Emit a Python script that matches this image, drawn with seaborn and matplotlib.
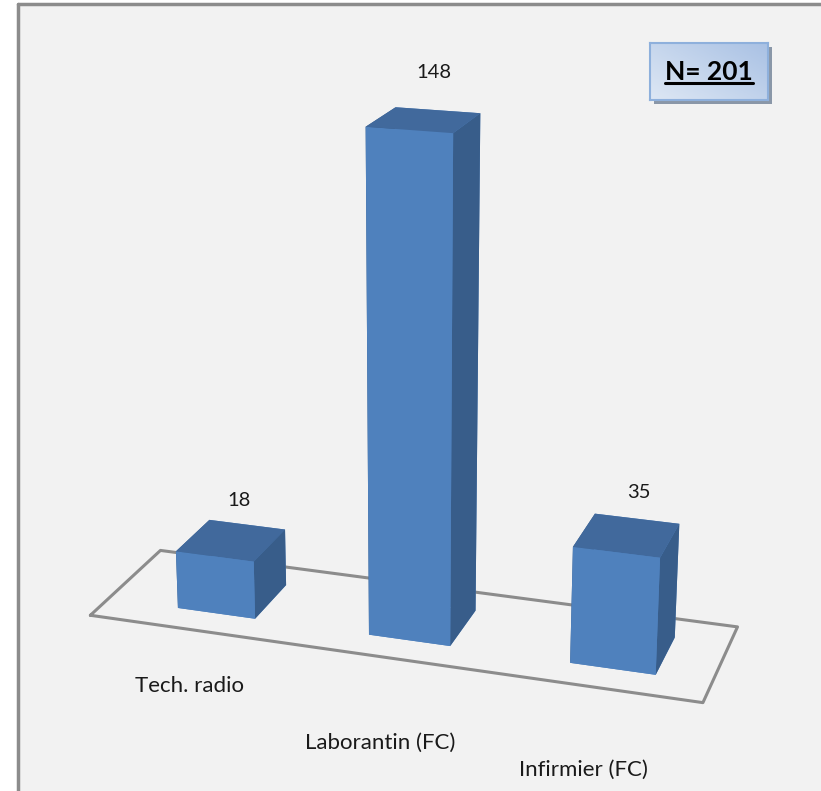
import numpy as np
import pandas as pd
import seaborn as sns
import matplotlib
matplotlib.use("Agg")
import matplotlib.pyplot as plt
from matplotlib.patches import Rectangle
from matplotlib.colors import LinearSegmentedColormap

categories = ["Tech. radio", "Laborantin (FC)", "Infirmier (FC)"]
values = [18, 148, 35]
total_label = "N= 201"

sns.set_theme(style="white")
plt.rcParams["font.family"] = ["Lato", "DejaVu Sans"]

df = pd.DataFrame({"cat": categories, "val": values})

W, H = 821, 791
fig = plt.figure(figsize=(W / 100, H / 100), dpi=100)
fig.patch.set_facecolor("white")

# chart area panel
fig.patches.append(Rectangle((18 / W, 0), 1, 1 - 4 / H, transform=fig.transFigure,
                             facecolor="#f2f2f2", edgecolor="none", zorder=-2))
fig.add_artist(plt.Line2D([18 / W, 18 / W], [0, 1 - 4 / H], transform=fig.transFigure,
                          color="#8c8c8c", lw=2.5, zorder=-1))
fig.add_artist(plt.Line2D([18 / W, 1], [1 - 4 / H, 1 - 4 / H], transform=fig.transFigure,
                          color="#8c8c8c", lw=2.5, zorder=-1))

ax = fig.add_axes([-0.011, 0.007, 1.0, 1.0], projection="3d")
ax.set_zorder(1)
ax.set_facecolor("none")
ax.patch.set_alpha(0)
ax.set_proj_type("persp", focal_length=0.55)
ax.view_init(elev=19, azim=-72)
ax.computed_zorder = False

n = len(df)
xs = np.arange(n)
bw, bd = 0.41, 0.5
x0, x1 = -0.58, n - 1 + 0.47
y0, y1 = -0.5, 0.5

# floor outline
fx = [x0, x1, x1, x0, x0]
fy = [y0, y0, y1, y1, y0]
ax.plot(fx, fy, [0] * 5, color="#8c8c8c", lw=2.2, zorder=1)

front, side, top = "#4f81bd", "#385d8a", "#41699c"
face_cols = []
for _ in range(n):
    # bottom, top, front(-y), back(+y), left(-x), right(+x)
    face_cols += [front, top, front, front, side, side]
ax.bar3d(xs - bw / 2, np.full(n, -bd / 2), np.zeros(n), bw, bd, df["val"].values,
         color=face_cols, shade=False, edgecolor="none", zorder=2)

for xi, v in zip(xs, df["val"]):
    ax.text(xi + 0.05, 0.0, v + 13, str(v), ha="center", va="center",
            fontsize=14.5, color="#1a1a1a", zorder=5)

ax.set_xlim(x0, x1)
ax.set_ylim(y0, y1)
ax.set_zlim(0, max(values))
ax.set_box_aspect((x1 - x0, 0.85 * (y1 - y0), 2.5), zoom=1.05)
ax.set_axis_off()

# category labels
label_pos = [(189, 686), (380, 743), (583, 770)]
for (px, py), c in zip(label_pos, categories):
    fig.text(px / W, 1 - py / H, c, ha="center", va="center", fontsize=16, color="#1a1a1a")

# N box with gradient fill
bx0, by0, bx1, by1 = 650, 43, 768, 100
fig.patches.append(Rectangle(((bx0 + 4) / W, 1 - (by1 + 4) / H), (bx1 - bx0) / W, (by1 - by0) / H,
                             transform=fig.transFigure, facecolor="#8a97a8", edgecolor="none", zorder=3))
gax = fig.add_axes([bx0 / W, 1 - by1 / H, (bx1 - bx0) / W, (by1 - by0) / H])
gax.set_zorder(4)
cmap = LinearSegmentedColormap.from_list("g", ["#dde7f4", "#a9c1e4"])
gy, gx = np.mgrid[0:1:50j, 0:1:50j]
gax.imshow(0.55 * gx + 0.45 * gy, cmap=cmap, aspect="auto", origin="lower",
           extent=(0, 1, 0, 1))
gax.set_xticks([])
gax.set_yticks([])
for s in gax.spines.values():
    s.set_color("#8eb0dc")
    s.set_linewidth(1.5)
t = gax.text(0.5, 0.5, total_label, ha="center", va="center", transform=gax.transAxes,
             fontsize=19, fontweight="bold", color="black")

fig.canvas.draw()
bb = t.get_window_extent()
fig.add_artist(plt.Line2D([bb.x0 / W, bb.x1 / W], [(bb.y0 + 1) / H, (bb.y0 + 1) / H],
                          transform=fig.transFigure, color="black", lw=2.2, zorder=6))
fig.savefig("out.png", dpi=100)
